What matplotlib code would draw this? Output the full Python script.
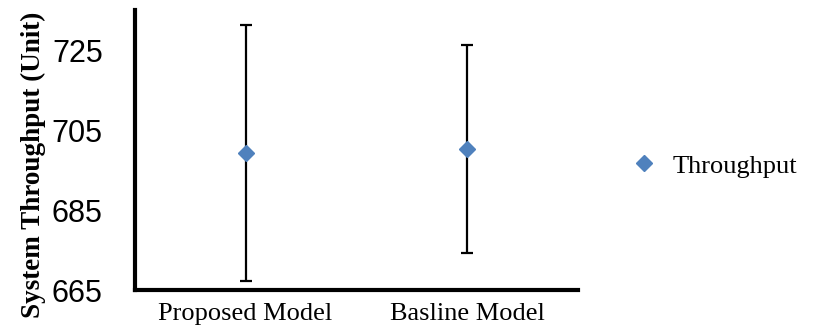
import numpy as np
import matplotlib.pyplot as plt
from matplotlib.lines import Line2D

# values
models = ['Proposed Model', 'Basline Model']
throughput = [699.25, 700.25]
err = [32.0, 26.0]
yticks = [665, 685, 705, 725]

fig = plt.figure(figsize=(8.17, 3.35), dpi=100)
ax = fig.add_axes([0.165, 0.134, 0.5425, 0.836])

x = np.arange(len(models))
ax.errorbar(x, throughput, yerr=err, fmt='D', color='#4F81BD', markersize=8,
            ecolor='black', elinewidth=1.6, capsize=4.5, capthick=1.6,
            zorder=3)

ax.set_xlim(-0.5, 1.5)
ax.set_ylim(665, 735)
ax.set_xticks(x)
ax.set_xticklabels(models, family='Liberation Serif', fontsize=19)
ax.set_yticks(yticks)
ax.set_yticklabels([str(t) for t in yticks], family='Liberation Sans', fontsize=22)
ax.tick_params(axis='both', length=0)
ax.tick_params(axis='x', pad=9)
ax.tick_params(axis='y', pad=23)

fig.text(33 / 817, 1 - 165 / 335, 'System Throughput (Unit)',
         family='Liberation Serif', fontweight='bold', fontsize=19.5,
         rotation=90, ha='center', va='center')

for s in ['top', 'right']:
    ax.spines[s].set_visible(False)
for s in ['left', 'bottom']:
    ax.spines[s].set_linewidth(3)
    ax.spines[s].set_color('black')

handle = Line2D([], [], marker='D', color='#4F81BD', linestyle='none', markersize=8)
ax.legend([handle], ['Throughput'], loc='center left', bbox_to_anchor=(0.743, 0.505),
          bbox_transform=fig.transFigure, frameon=False,
          prop={'family': 'Liberation Serif', 'size': 19},
          handletextpad=0.6, handlelength=1.0)

fig.savefig('out.png', dpi=100)
